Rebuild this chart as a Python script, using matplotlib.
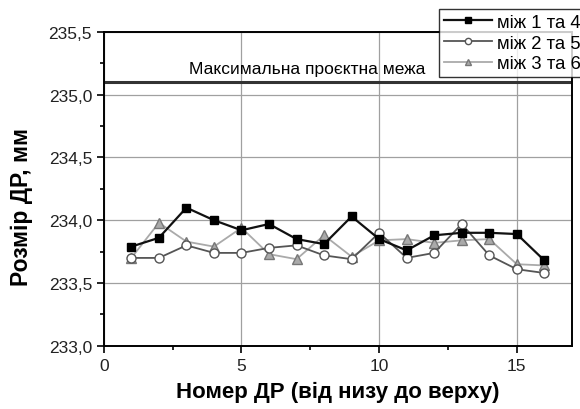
import numpy as np
import matplotlib
matplotlib.use('Agg')
import matplotlib.pyplot as plt
from matplotlib.ticker import FuncFormatter, MultipleLocator

plt.rcParams['font.family'] = ['Liberation Sans', 'DejaVu Sans']

n = np.arange(1, 17)
s14 = [233.79, 233.86, 234.10, 234.00, 233.92, 233.97, 233.85, 233.81,
       234.03, 233.85, 233.76, 233.88, 233.90, 233.90, 233.89, 233.68]
s25 = [233.70, 233.70, 233.80, 233.74, 233.74, 233.78, 233.80, 233.72,
       233.69, 233.90, 233.70, 233.74, 233.97, 233.72, 233.61, 233.58]
s36 = [233.70, 233.98, 233.83, 233.79, 233.94, 233.73, 233.69, 233.88,
       233.71, 233.84, 233.85, 233.82, 233.84, 233.85, 233.65, 233.64]
labels = ['між 1 та 4', 'між 2 та 5', 'між 3 та 6']
max_limit = 235.1

fig = plt.figure(figsize=(5.8, 4.1), dpi=100)
ax = fig.add_axes([0.179, 0.154, 0.807, 0.766])

ax.grid(True, color='#a0a0a0', lw=0.9)
ax.set_axisbelow(True)
ax.axhline(max_limit, color='#333333', lw=2.2, zorder=2)
ax.text(3.1, max_limit + 0.045, 'Максимальна проєктна межа', fontsize=12.5, va='bottom')

ax.plot(n, s14, '-s', color='#111111', mfc='black', mec='black', ms=5.2, lw=1.6, label=labels[0], zorder=5)
ax.plot(n, s25, '-o', color='#555555', mfc='white', mec='#555555', ms=6.5, lw=1.3, label=labels[1], zorder=4)
ax.plot(n, s36, '-^', color='#aaaaaa', mfc='#aaaaaa', mec='#777777', ms=7, lw=1.3, label=labels[2], zorder=3)

ax.set_xlim(0, 17)
ax.set_ylim(233.0, 235.5)
ax.xaxis.set_major_locator(MultipleLocator(5))
ax.xaxis.set_minor_locator(MultipleLocator(2.5))
ax.yaxis.set_major_locator(MultipleLocator(0.5))
ax.yaxis.set_minor_locator(MultipleLocator(0.25))
ax.yaxis.set_major_formatter(FuncFormatter(lambda v, p: f'{v:.1f}'.replace('.', ',')))
ax.tick_params(which='both', direction='out', labelsize=12.5, colors='black', top=False, right=False)
ax.tick_params(which='major', length=5, width=1.2, labelcolor='#222222')
ax.tick_params(which='minor', length=3, width=1.2)
for sp in ax.spines.values():
    sp.set_linewidth(1.4)

ax.set_xlabel('Номер ДР (від низу до верху)', fontsize=16, fontweight='bold', labelpad=6)
ax.set_ylabel('Розмір ДР, мм', fontsize=16.5, fontweight='bold')
ax.yaxis.set_label_coords(-0.152, 0.446)

leg = fig.legend(loc='upper left', bbox_to_anchor=(0.757, 0.975), fontsize=13.3,
                 frameon=True, fancybox=False, edgecolor='black', handlelength=2.6,
                 borderpad=0.25, labelspacing=0.2, handletextpad=0.3, borderaxespad=0)
leg.get_frame().set_linewidth(1.0)
for h in leg.legend_handles:
    h.set_markersize(4.5)

fig.savefig('out.png', dpi=100)
